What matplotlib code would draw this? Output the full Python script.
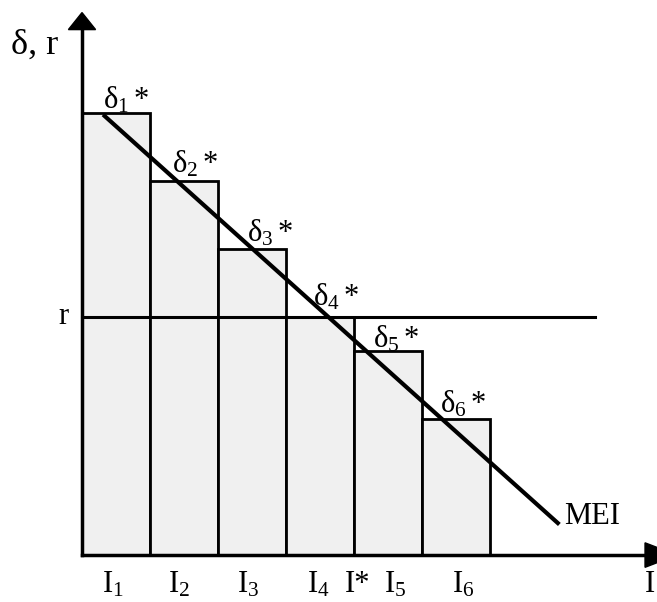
import matplotlib
matplotlib.use("Agg")
import matplotlib.pyplot as plt
from matplotlib.patches import Polygon

plt.rcParams['font.family'] = ['Liberation Serif', 'DejaVu Serif']
plt.rcParams['mathtext.fontset'] = 'custom'
plt.rcParams['mathtext.rm'] = 'Liberation Serif'
plt.rcParams['mathtext.it'] = 'Liberation Serif'

# data (bar heights in arbitrary units, each bar width 1)
bar_labels = ['I$_1$', 'I$_2$', 'I$_3$', 'I$_4$', 'I$_5$', 'I$_6$']
delta_labels = [r'$\mathrm{δ_1}\,$*', r'$\mathrm{δ_2}\,$*', r'$\mathrm{δ_3}\,$*',
                r'$\mathrm{δ_4}\,$*', r'$\mathrm{δ_5}\,$*', r'$\mathrm{δ_6}\,$*']
heights = [13, 11, 9, 7, 6, 4]
r_value = 7
mei_x = [0.31, 7.02]
mei_y = [12.95, 0.9]
i_star = 3.87

# label placement (offsets in data units)
delta_dx = [0.31, 0.32, 0.43, 0.40, 0.28, 0.27]
delta_dy = [-0.09, 0.03, 0.0, 0.12, -0.09, 0.0]
bar_label_x = [0.29, 1.26, 2.28, 3.31, 4.44, 5.44]

fig = plt.figure(figsize=(6.57, 6.02), dpi=100)
ax = fig.add_axes([0, 0, 1, 1])
ax.set_xlim(-1.206, 8.456)
ax.set_ylim(-1.38, 16.32)
ax.axis('off')

# bars
xs = [i + 0.5 for i in range(len(heights))]
ax.bar(xs, heights, width=1.0, color='#f0f0f0', edgecolor='black', linewidth=2, zorder=2)

# r line
ax.plot([0, 7.55], [r_value, r_value], color='black', lw=2.2, zorder=3)

# MEI line
ax.plot(mei_x, mei_y, color='black', lw=3, zorder=4, solid_capstyle='butt')

# axes with arrows
ax.plot([0, 0], [0, 15.5], color='black', lw=2.5, zorder=5)
ax.plot([0, 8.4], [0, 0], color='black', lw=2.5, zorder=5)
ax.add_patch(Polygon([[-0.2, 15.45], [0.2, 15.45], [0, 15.95]], closed=True,
                     color='black', zorder=6))
ax.add_patch(Polygon([[8.28, 0.36], [8.28, -0.36], [8.75, 0]], closed=True,
                     color='black', zorder=6, clip_on=False))

fs = 22
# delta labels
for i, (lab, h) in enumerate(zip(delta_labels, heights)):
    ax.text(i + delta_dx[i], h + delta_dy[i], lab, fontsize=fs, ha='left',
            va='bottom', zorder=7)

# axis labels
ax.text(-0.35, 15.0, 'δ, r', fontsize=26, ha='right', va='center')
ax.text(-0.2, r_value, 'r', fontsize=fs, ha='right', va='center')
ax.text(7.09, 1.12, 'MEI', fontsize=fs, ha='left', va='center')
for i, lab in enumerate(bar_labels):
    ax.text(bar_label_x[i], -0.45, lab, fontsize=fs, ha='left', va='top')
ax.text(i_star, -0.45, 'I*', fontsize=fs, ha='left', va='top')
ax.text(8.28, -0.45, 'I', fontsize=fs, ha='left', va='top')

fig.savefig('out.png', dpi=100)
